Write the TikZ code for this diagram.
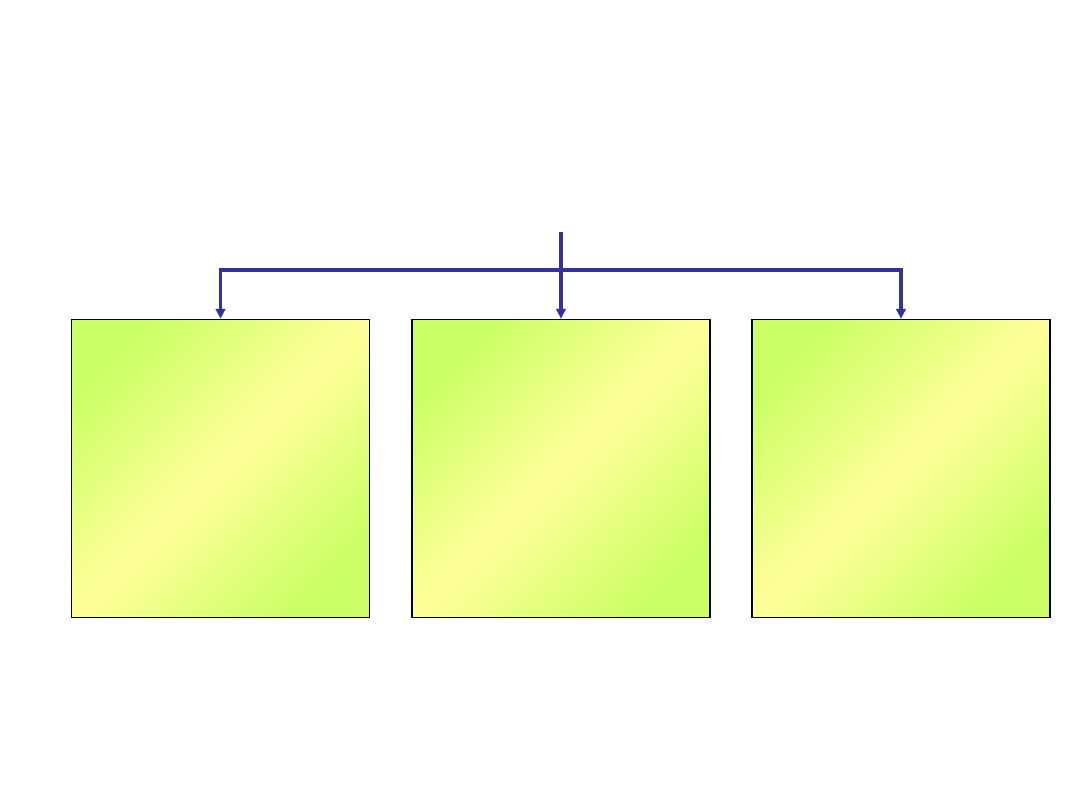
\documentclass[tikz,border=0pt]{standalone}
\usepackage{xcolor}
\usetikzlibrary{positioning,arrows.meta}
\definecolor{LinkBlue}{RGB}{51,51,153}
\definecolor{LimeGreen}{RGB}{204,255,102}
\definecolor{PaleYellow}{RGB}{255,255,153}
\tikzset{
         panel/.style={draw=black, line width=1pt, minimum size=7.45cm,
                       inner sep=0pt, top color=LimeGreen, bottom color=LimeGreen,
                       middle color=PaleYellow, shading angle=45},
         myarrow/.style={-{Triangle[length=0.25cm, width=0.24cm]}, LinkBlue,
                         line width=2.4pt},
}

\begin{document}
\begin{tikzpicture}[x=0.025cm, y=-0.025cm]
    \useasboundingbox (0,0) rectangle (1080,810);

    % Kaesten
    \node[panel] (boxA) at (220.5,468.5) {};
    \node[panel] (boxB) at (561,468.5) {};
    \node[panel] (boxC) at (901,468.5) {};

    % Verteiler
    \coordinate (root) at (561,232);
    \coordinate (barM) at (561,270);
    \draw[myarrow] (root) -- (boxB.north);
    \draw[myarrow] (barM) -| (boxA.north);
    \draw[myarrow] (barM) -| (boxC.north);
\end{tikzpicture}
\end{document}
